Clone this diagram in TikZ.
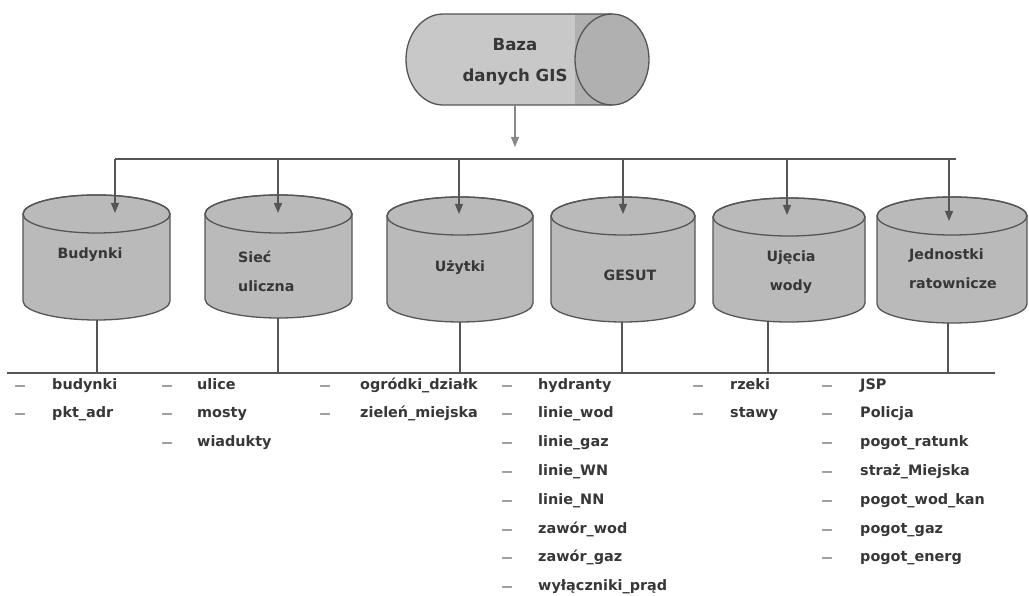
\documentclass[tikz,border=0pt]{standalone}
\usepackage{fontspec}
\setmainfont{DejaVu Sans}
\usetikzlibrary{arrows.meta}
\definecolor{ink}{RGB}{55,55,58}
\definecolor{edgec}{RGB}{85,85,85}
\definecolor{cylfill}{RGB}{186,186,186}
\definecolor{bodyfill}{RGB}{200,200,200}
\definecolor{endfill}{RGB}{176,176,176}
\tikzset{
  cylshape/.style={fill=cylfill,draw=edgec,line width=1.3pt},
  cylline/.style={draw=edgec,line width=1.3pt},
  conn/.style={draw=edgec,line width=1.2pt},
  arr/.style={conn,-{Triangle[length=10pt,width=8pt]}},
  lbl/.style={font=\fontsize{14.2}{29}\selectfont\bfseries,text=ink,inner sep=0pt},
  toplbl/.style={font=\fontsize{16.6}{31}\selectfont\bfseries,text=ink,inner sep=0pt,align=center},
  item/.style={font=\fontsize{14.4}{16}\selectfont\bfseries,text=ink,inner sep=0pt},
  dashn/.style={font=\fontsize{11}{16}\selectfont\bfseries,text=ink!70,inner sep=0pt}
}
\newcommand\dbcyl[5]{% name, cx, rx, top, bottom
  \path[cylshape] ({#2-#3},{#4+19}) -- ({#2-#3},{#5-19})
    arc[start angle=180,end angle=360,x radius=#3pt,y radius=19pt]
    -- ({#2+#3},{#4+19})
    arc[start angle=0,end angle=180,x radius=#3pt,y radius=19pt] -- cycle;
  \draw[cylline] (#2,{#4+19}) ellipse[x radius=#3pt,y radius=19pt];
  \coordinate (#1-bot) at (#2,#5);
}
\newcommand\listcol[4]{% name, dash x, text x, items
  \foreach \t [count=\i from 0] in {#4}{%
    \node[dashn,anchor=base] (#1d\i) at (#2,{389+28.8*\i}) {—};
    \node[item,anchor=base west] (#1t\i) at (#3,{389+28.8*\i}) {\t};
  }%
}
\begin{document}
\begin{tikzpicture}[x=1pt,y=-1pt]
\useasboundingbox (0,0) rectangle (1029,596);
% top cylinder
\fill[bodyfill] (612,14) -- (443,14)
  arc[start angle=90,end angle=270,x radius=37pt,y radius=45.5pt] -- (612,105) -- cycle;
\fill[endfill] (575,14) rectangle (612,105);
\fill[endfill] (612,59.5) ellipse[x radius=37pt,y radius=45.5pt];
\draw[cylline] (612,14) -- (443,14)
  arc[start angle=90,end angle=270,x radius=37pt,y radius=45.5pt] -- (612,105);
\draw[cylline] (612,59.5) ellipse[x radius=37pt,y radius=45.5pt];
\node[toplbl] (gis) at (515,62) {Baza\\danych GIS};
\coordinate (gisout) at (515,105);
\coordinate (gisarr) at (515,147);
\draw[arr,draw=edgec!70] (gisout) -- (gisarr);
% bus
\coordinate (bus1) at (115,159);
\coordinate (bus2) at (278,159);
\coordinate (bus3) at (459,159);
\coordinate (bus4) at (623,159);
\coordinate (bus5) at (787,159);
\coordinate (bus6) at (949,159);
\coordinate (busend) at (956,159);
\draw[conn] (bus1) -- (busend);
% cylinders
\dbcyl{c1}{96.5}{73.5}{195}{320}
\dbcyl{c2}{278.5}{73.5}{195}{318}
\dbcyl{c3}{460}{73}{197}{322}
\dbcyl{c4}{623}{72}{197}{322}
\dbcyl{c5}{789}{76}{198}{322}
\dbcyl{c6}{952}{75}{197}{323}
% arrows into cylinders
\coordinate (in1) at (115,213);
\coordinate (in2) at (278,213);
\coordinate (in3) at (459,214);
\coordinate (in4) at (623,214);
\coordinate (in5) at (787,215);
\coordinate (in6) at (949,221);
\draw[arr] (bus1) -- (in1);
\draw[arr] (bus2) -- (in2);
\draw[arr] (bus3) -- (in3);
\draw[arr] (bus4) -- (in4);
\draw[arr] (bus5) -- (in5);
\draw[arr] (bus6) -- (in6);
% labels
\node[lbl] (l1) at (90,255) {Budynki};
\node[lbl,align=left,anchor=west] (l2) at (238,271.5) {Sieć\\uliczna};
\node[lbl] (l3) at (460,268) {Użytki};
\node[lbl] (l4) at (630,275) {GESUT};
\node[lbl,align=center] (l5) at (791,272.5) {Ujęcia\\wody};
\node[lbl,align=left,anchor=west] (l6) at (909,269) {Jednostki\\ratownicze};
% stems
\coordinate (s1t) at (97,320);
\coordinate (s2t) at (278,318);
\coordinate (s3t) at (460,322);
\coordinate (s4t) at (622,322);
\coordinate (s5t) at (768,322);
\coordinate (s6t) at (948,323);
\coordinate (s1) at (97,373);
\coordinate (s2) at (278,373);
\coordinate (s3) at (460,373);
\coordinate (s4) at (622,373);
\coordinate (s5) at (768,373);
\coordinate (s6) at (948,373);
\draw[conn] (s1t) -- (s1);
\draw[conn] (s2t) -- (s2);
\draw[conn] (s3t) -- (s3);
\draw[conn] (s4t) -- (s4);
\draw[conn] (s5t) -- (s5);
\draw[conn] (s6t) -- (s6);
\coordinate (base0) at (7,373);
\coordinate (base1) at (995,373);
\draw[conn] (base0) -- (base1);
% lists
\listcol{a}{20}{52}{budynki,pkt\_adr}
\listcol{b}{167}{197}{ulice,mosty,wiadukty}
\listcol{c}{325}{360}{ogródki\_działk,zieleń\_miejska}
\listcol{d}{507}{538}{hydranty,linie\_wod,linie\_gaz,linie\_WN,linie\_NN,zawór\_wod,zawór\_gaz,wyłączniki\_prąd}
\listcol{e}{698}{730}{rzeki,stawy}
\listcol{f}{827}{860}{JSP,Policja,pogot\_ratunk,straż\_Miejska,pogot\_wod\_kan,pogot\_gaz,pogot\_energ}
\end{tikzpicture}
\end{document}
